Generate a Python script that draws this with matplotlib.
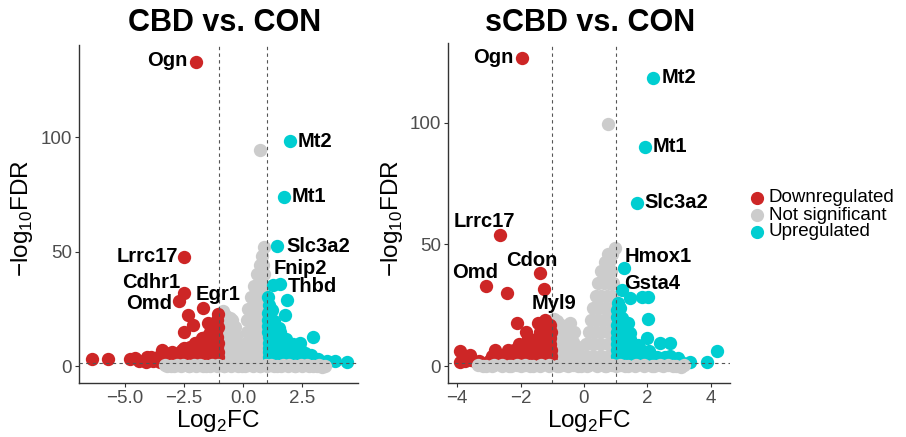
import matplotlib
matplotlib.use("Agg")
import matplotlib.pyplot as plt

plt.rcParams['font.family'] = ['Liberation Sans', 'DejaVu Sans']
plt.rcParams['mathtext.fontset'] = 'custom'
plt.rcParams['mathtext.rm'] = 'Liberation Sans'

# ---------------- data ----------------
categories = ["Downregulated", "Not significant", "Upregulated"]
cat_colors = ["#CD2626", "#CCCCCC", "#00CED1"]
titles = ["CBD vs. CON", "sCBD vs. CON"]

# CBD vs CON
cbd_down_x = [-2.0, -2.48, -2.5, -2.7, -1.7, -2.33, -2.1, -2.49, -1.46, -1.04, -1.25, -1.67, -1.32,
              -6.38, -5.68, -4.77, -4.56, -4.06, -3.92, -3.43, -3.01, -2.59, -2.24, -2.03, -1.74,
              -4.4, -4.1, -3.8, -3.5, -3.2, -2.9, -2.6, -2.3, -2.0, -1.7, -1.4, -1.1,
              -3.9, -3.6, -3.3, -3.0, -2.7, -2.4, -2.1, -1.8, -1.5, -1.2, -1.05,
              -3.3, -3.0, -2.7, -2.4, -2.1, -1.8, -1.5, -1.2, -1.05,
              -2.5, -2.2, -1.9, -1.6, -1.3, -1.08,
              -2.0, -1.75, -1.5, -1.25, -1.05,
              -1.55, -1.3, -1.08, -1.4, -1.15, -1.2, -1.05, -1.1]
cbd_down_y = [132.9, 47.6, 31.8, 28.4, 25.2, 22.3, 17.9, 14.7, 18.6, 22.6, 15.9, 12.1, 12.8,
              3.0, 3.0, 3.0, 3.4, 4.0, 3.2, 7.0, 5.5, 7.0, 8.4, 9.9, 12.1,
              2.1, 1.9, 2.2, 1.8, 2.0, 2.3, 1.9, 2.1, 2.0, 2.2, 1.9, 2.1,
              4.0, 3.8, 4.2, 4.0, 4.3, 3.9, 4.1, 4.2, 3.9, 4.1, 4.0,
              5.8, 6.1, 5.9, 6.2, 6.0, 6.3, 5.9, 6.1, 6.0,
              8.0, 7.8, 8.2, 8.1, 7.9, 8.2,
              10.0, 10.3, 9.8, 10.1, 10.2,
              12.5, 12.3, 12.7, 15.0, 14.8, 17.5, 17.2, 20.0]

cbd_ns_band_x = [-3.3, -3.05, -2.8, -2.55, -2.3, -2.05, -1.8, -1.55, -1.3, -1.05, -0.8, -0.55, -0.3,
                 -0.05, 0.2, 0.45, 0.7, 0.95, 1.2, 1.45, 1.7, 1.95, 2.2, 2.45, 2.7, 2.95, 3.2, 3.45,
                 -3.2, -2.9, -2.6, -2.3, -2.0, -1.7, -1.4, -1.1, -0.8, -0.5, -0.2, 0.1,
                 0.4, 0.7, 1.0, 1.3, 1.6, 1.9, 2.2, 2.5, 2.8, 3.1, 3.35]
cbd_ns_band_y = [0.3, 0.2, 0.4, 0.3, 0.2, 0.3, 0.4, 0.2, 0.3, 0.3, 0.2, 0.4, 0.3,
                 0.2, 0.3, 0.4, 0.2, 0.3, 0.3, 0.2, 0.4, 0.3, 0.2, 0.3, 0.3, 0.2, 0.3, 0.2,
                 0.0, -0.1, 0.1, 0.0, -0.1, 0.1, 0.0, -0.1, 0.1, 0.0, -0.1, 0.1,
                 0.0, -0.1, 0.1, 0.0, -0.1, 0.1, 0.0, -0.1, 0.0, -0.1, -0.2]
cbd_ns_arm_x = [-0.95, -0.85, -0.7, -0.55, -0.45, -0.35, -0.9, -0.7, -0.5, -0.3,
                -0.9, -0.7, -0.5, -0.3, -0.18, -0.9, -0.7, -0.5, -0.3, -0.12,
                -0.9, -0.65, -0.4, -0.15, 0.0, 0.1,
                0.1, 0.3, 0.5, 0.7, 0.9, 0.12, 0.32, 0.52, 0.72, 0.9,
                0.15, 0.35, 0.55, 0.75, 0.92, 0.18, 0.38, 0.58, 0.78, 0.93,
                0.22, 0.42, 0.62, 0.8, 0.93, 0.35, 0.55, 0.72, 0.9,
                0.45, 0.62, 0.8, 0.92, 0.6, 0.75, 0.88,
                0.7, 0.85, 0.8, 0.88, 0.72]
cbd_ns_arm_y = [22.0, 24.0, 22.0, 21.0, 20.0, 17.0, 17.0, 16.0, 15.0, 13.0,
                12.0, 11.0, 10.0, 9.0, 8.0, 7.0, 6.0, 5.0, 5.0, 4.0,
                3.0, 2.5, 2.5, 2.5, 2.0, 2.5,
                5.0, 5.0, 5.0, 5.0, 5.0, 10.0, 10.0, 10.0, 10.0, 10.0,
                15.0, 15.0, 15.0, 15.0, 15.0, 20.0, 20.0, 20.0, 20.0, 20.0,
                25.0, 25.0, 25.0, 25.0, 25.0, 30.0, 30.0, 30.0, 30.0,
                35.0, 35.0, 35.0, 35.0, 40.0, 40.0, 40.0,
                44.0, 44.0, 48.0, 52.0, 94.3]

cbd_up_x = [1.98, 1.73, 1.45, 1.28, 1.56, 1.07, 1.84, 1.77, 1.21, 2.97, 2.4, 4.37, 3.88, 3.55,
            1.1, 1.4, 1.7, 2.0, 2.3, 2.6, 2.9, 3.2,
            1.1, 1.4, 1.7, 2.0, 2.3, 2.6, 2.9, 3.15,
            1.1, 1.4, 1.7, 2.0, 2.3, 2.6, 2.85,
            1.1, 1.35, 1.6, 1.85, 2.1, 2.4,
            1.1, 1.35, 1.6, 1.85, 2.1,
            1.08, 1.3, 1.55, 1.8, 1.05, 1.3, 1.55, 1.05, 1.3, 1.5, 1.05, 1.3, 1.05, 1.08]
cbd_up_y = [98.4, 73.9, 52.3, 35.4, 35.8, 30.3, 28.8, 22.3, 24.5, 12.8, 10.2, 1.8, 2.0, 2.1,
            2.0, 2.2, 1.9, 2.1, 2.0, 2.2, 1.9, 2.0,
            4.0, 4.2, 3.9, 4.1, 4.0, 3.8, 3.6, 3.2,
            6.0, 6.2, 5.9, 6.1, 5.8, 5.5, 4.8,
            8.0, 8.2, 7.9, 8.1, 7.8, 7.5,
            10.0, 10.2, 9.9, 10.1, 9.6,
            12.5, 12.7, 12.3, 12.0, 15.0, 15.2, 14.8, 17.5, 17.3, 16.8, 20.0, 19.5, 23.0, 26.5]

cbd_labels = ["Ogn", "Mt2", "Mt1", "Slc3a2", "Lrrc17", "Cdhr1", "Omd", "Egr1", "Fnip2", "Thbd"]
cbd_label_x = [-2.0, 1.98, 1.73, 1.45, -2.48, -2.5, -2.7, -1.7, 1.28, 1.56]
cbd_label_y = [132.9, 98.4, 73.9, 52.3, 47.6, 31.8, 28.4, 25.2, 35.4, 35.8]

# sCBD vs CON
scbd_down_x = [-1.97, -2.65, -1.39, -3.09, -1.26, -2.44, -2.12, -1.84, -2.81, -3.91, -3.6, -3.91,
               -3.75, -3.55, -3.4, -2.39, -1.23, -1.44,
               -3.3, -3.0, -2.7, -2.4, -2.1, -1.8, -1.5, -1.25, -1.05,
               -2.9, -2.6, -2.3, -2.0, -1.75, -1.5, -1.25, -1.05,
               -2.2, -2.0, -1.75, -1.5, -1.25, -1.05,
               -2.05, -1.8, -1.55, -1.3, -1.07,
               -1.75, -1.5, -1.28, -1.07, -1.4, -1.2, -1.05, -1.3, -1.08]
scbd_down_y = [126.6, 53.9, 38.1, 33.0, 31.7, 29.9, 17.8, 14.1, 6.6, 6.3, 4.5, 1.6,
               2.1, 2.6, 1.8, 6.6, 18.9, 17.6,
               2.0, 2.2, 1.9, 2.1, 2.0, 2.2, 1.9, 2.1, 2.0,
               4.0, 3.8, 4.2, 4.0, 4.3, 3.9, 4.1, 4.2,
               6.5, 6.3, 6.6, 6.4, 6.7, 6.5,
               9.0, 8.8, 9.2, 9.1, 8.9,
               11.5, 11.3, 11.7, 11.6, 14.0, 13.8, 14.2, 16.5, 16.8]

scbd_ns_band_x = [-3.35, -3.1, -2.85, -2.6, -2.35, -2.1, -1.85, -1.6, -1.35, -1.1, -0.85, -0.6,
                  -0.35, -0.1, 0.15, 0.4, 0.65, 0.9, 1.15, 1.4, 1.65, 1.9, 2.15, 2.4, 2.65, 2.9, 3.15,
                  -3.2, -2.9, -2.6, -2.3, -2.0, -1.7, -1.4, -1.1, -0.8, -0.5, -0.2, 0.1,
                  0.4, 0.7, 1.0, 1.3, 1.6, 1.9, 2.2, 2.5, 2.8, 3.05]
scbd_ns_band_y = [0.3, 0.2, 0.4, 0.3, 0.2, 0.3, 0.4, 0.2, 0.3, 0.3, 0.2, 0.4,
                  0.3, 0.2, 0.3, 0.4, 0.2, 0.3, 0.3, 0.2, 0.4, 0.3, 0.2, 0.3, 0.3, 0.2, 0.3,
                  0.0, -0.1, 0.1, 0.0, -0.1, 0.1, 0.0, -0.1, 0.1, 0.0, -0.1, 0.1,
                  0.0, -0.1, 0.1, 0.0, -0.1, 0.1, 0.0, -0.1, 0.0, -0.2]
scbd_ns_arm_x = [-0.95, -0.85, -0.72, -0.58, -0.44, -0.3, -0.92, -0.75, -0.55, -0.35, -0.2,
                 -0.9, -0.7, -0.5, -0.3, -0.12, -0.9, -0.7, -0.5, -0.1, 0.0,
                 0.05, 0.3, 0.55, 0.8, 0.95, 0.08, 0.3, 0.52, 0.75, 0.95,
                 0.15, 0.35, 0.55, 0.75, 0.95, 0.22, 0.42, 0.62, 0.8, 0.95,
                 0.3, 0.48, 0.66, 0.84, 0.95, 0.38, 0.55, 0.72, 0.9,
                 0.45, 0.62, 0.8, 0.93, 0.55, 0.7, 0.85,
                 0.65, 0.8, 0.75, 0.9, 0.98, 0.77]
scbd_ns_arm_y = [19.5, 18.5, 17.0, 16.5, 17.7, 14.0, 14.0, 12.5, 11.5, 10.0, 8.0,
                 9.0, 7.5, 6.5, 5.0, 4.0, 4.0, 3.0, 2.5, 2.0, 3.0,
                 4.0, 4.0, 4.0, 4.0, 4.0, 9.0, 9.0, 9.0, 9.0, 9.0,
                 14.0, 14.0, 14.0, 14.0, 14.0, 19.0, 19.0, 19.0, 19.0, 19.0,
                 24.0, 24.0, 24.0, 24.0, 24.0, 29.0, 29.0, 29.0, 29.0,
                 34.0, 34.0, 34.0, 34.0, 39.0, 39.0, 39.0,
                 43.0, 43.0, 46.0, 46.0, 48.4, 99.6]

scbd_up_x = [2.19, 1.92, 1.66, 1.25, 1.19, 1.45, 1.82, 2.03, 1.14, 2.03, 1.40, 1.14, 1.98, 2.4, 2.71,
             4.19, 3.34, 3.87, 2.73, 2.98,
             1.05, 1.3, 1.55, 1.8, 2.05, 2.3, 2.55, 2.8, 3.05,
             1.05, 1.3, 1.55, 1.8, 2.05, 2.3, 2.55,
             1.05, 1.3, 1.55, 1.8, 2.05,
             1.05, 1.25, 1.5, 1.7, 1.05, 1.25, 1.45, 1.05, 1.25, 1.45,
             1.05, 1.2, 1.05, 1.2, 1.05, 1.08]
scbd_up_y = [118.6, 90.2, 67.2, 40.4, 31.3, 27.9, 28.5, 28.5, 23.7, 19.3, 17.6, 16.2, 11.4, 9.6, 9.6,
             6.3, 1.6, 1.6, 4.1, 3.2,
             2.0, 2.2, 1.9, 2.1, 2.0, 2.2, 1.9, 2.1, 1.8,
             4.0, 4.2, 3.9, 4.1, 4.0, 3.8, 3.6,
             6.5, 6.7, 6.3, 6.6, 6.2,
             9.0, 9.2, 8.8, 8.5, 11.5, 11.7, 11.3, 14.0, 14.2, 13.5,
             17.0, 16.8, 20.0, 19.7, 23.0, 26.0]

scbd_labels = ["Ogn", "Mt2", "Mt1", "Slc3a2", "Lrrc17", "Omd", "Cdon", "Myl9", "Hmox1", "Gsta4"]
scbd_label_x = [-1.97, 2.19, 1.92, 1.66, -2.65, -3.09, -1.39, -1.23, 1.25, 1.19]
scbd_label_y = [126.6, 118.6, 90.2, 67.2, 53.9, 33.0, 38.1, 18.9, 40.4, 31.3]

# ---------------- layout / styles ----------------
cbd_label_style = {  # (dx px, dy px, ha)
    "Ogn": (-8, 1, "right"), "Mt2": (8, -1, "left"), "Mt1": (8, 0, "left"),
    "Slc3a2": (8.5, 0, "left"), "Lrrc17": (-6, 1, "right"), "Cdhr1": (-4, 11, "right"),
    "Omd": (-7, -2, "right"), "Egr1": (15, 14, "center"), "Fnip2": (0, 16, "left"),
    "Thbd": (8, -2, "left")}
scbd_label_style = {
    "Ogn": (-8, 1, "right"), "Mt2": (8, 0, "left"), "Mt1": (8, 0, "left"),
    "Slc3a2": (8, 0, "left"), "Lrrc17": (-16, 14, "center"), "Omd": (-11, 13, "center"),
    "Cdon": (-8, 13, "center"), "Myl9": (9, 17, "center"), "Hmox1": (1, 11, "left"),
    "Gsta4": (2, 6, "left")}

W, H = 906, 437
fig = plt.figure(figsize=(W / 100, H / 100), dpi=100)

panels = [
    dict(rect=[79 / W, 1 - 383 / H, (358 - 79) / W, (383 - 45) / H],
         xlim=(-6.92, 4.85), ylim=(-7.4, 140.2),
         xticks=[-5.0, -2.5, 0.0, 2.5], xtl=["\u22125.0", "\u22122.5", "0.0", "2.5"],
         down=(cbd_down_x, cbd_down_y), band=(cbd_ns_band_x, cbd_ns_band_y),
         arm=(cbd_ns_arm_x, cbd_ns_arm_y), up=(cbd_up_x, cbd_up_y),
         labels=(cbd_labels, cbd_label_x, cbd_label_y), lstyle=cbd_label_style,
         title_x=225 / W, ylab_x=22 / W),
    dict(rect=[448 / W, 1 - 383.3 / H, (730 - 448) / W, (383.3 - 42.7) / H],
         xlim=(-4.29, 4.61), ylim=(-7.1, 133.0),
         xticks=[-4, -2, 0, 2, 4], xtl=["\u22124", "\u22122", "0", "2", "4"],
         down=(scbd_down_x, scbd_down_y), band=(scbd_ns_band_x, scbd_ns_band_y),
         arm=(scbd_ns_arm_x, scbd_ns_arm_y), up=(scbd_up_x, scbd_up_y),
         labels=(scbd_labels, scbd_label_x, scbd_label_y), lstyle=scbd_label_style,
         title_x=590 / W, ylab_x=392 / W),
]

MS = 92
for i, p in enumerate(panels):
    ax = fig.add_axes(p["rect"])
    ax.scatter(*p["arm"], s=MS, color=cat_colors[1], linewidths=0, zorder=2)
    ax.scatter(*p["down"], s=MS, color=cat_colors[0], linewidths=0, zorder=3)
    ax.scatter(*p["up"], s=MS, color=cat_colors[2], linewidths=0, zorder=3)
    ax.scatter(*p["band"], s=MS, color=cat_colors[1], linewidths=0, zorder=3.5)
    ax.set_xlim(*p["xlim"])
    ax.set_ylim(*p["ylim"])
    for xv in (-1, 1):
        ax.axvline(xv, color="#555555", lw=0.8, ls=(0, (3, 3)), zorder=4)
    ax.axhline(1.3, color="#555555", lw=0.8, ls=(0, (3, 3)), zorder=4)
    ax.set_xticks(p["xticks"])
    ax.set_xticklabels(p["xtl"])
    ax.set_yticks([0, 50, 100])
    ax.set_yticklabels(["0", "50", "100"])
    ax.tick_params(axis="both", labelsize=13.5, labelcolor="#4D4D4D", color="#333333",
                   length=3, width=0.8, pad=2)
    for side in ("top", "right"):
        ax.spines[side].set_visible(False)
    for side in ("left", "bottom"):
        ax.spines[side].set_color("#333333")
        ax.spines[side].set_linewidth(1.0)
    names, lx, ly = p["labels"]
    for name, x, y in zip(names, lx, ly):
        dx, dy, ha = p["lstyle"][name]
        ax.annotate(name, (x, y), xytext=(dx, dy), textcoords="offset pixels",
                    ha=ha, va="center", fontsize=14.5, fontweight="bold", color="black",
                    zorder=6)
    cx = p["rect"][0] + p["rect"][2] / 2
    fig.text(p["title_x"], 1 - 23 / H, titles[i], ha="center", va="center",
             fontsize=22, fontweight="bold")
    fig.text(cx, 1 - 421 / H, "Log$_{\\mathregular{2}}$FC", ha="center", va="center",
             fontsize=17.5)
    fig.text(p["ylab_x"], 1 - 218 / H, "\u2212log$_{\\mathregular{10}}$FDR", ha="center",
             va="center", rotation=90, fontsize=17.5)

# legend
leg_y = [198, 215, 232]
for cat, col, yy in zip(categories, cat_colors, leg_y):
    fig.add_artist(plt.Line2D([757 / W], [1 - yy / H], marker="o", markersize=8.5,
                              color=col, linestyle="none", transform=fig.transFigure))
    fig.text(769 / W, 1 - yy / H, cat, ha="left", va="center", fontsize=13.5, color="black")

fig.savefig("out.png", dpi=100)
